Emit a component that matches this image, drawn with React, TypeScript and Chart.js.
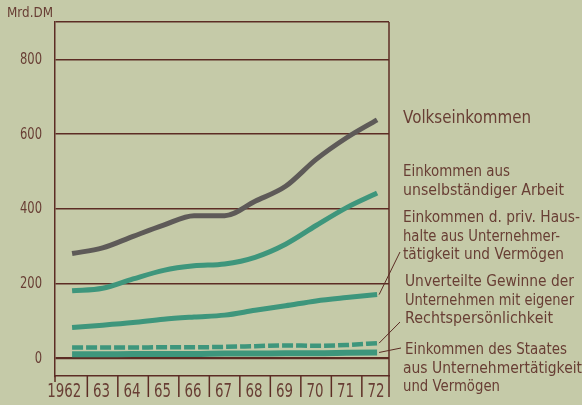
import React, { useEffect, useRef } from "react";
import { Chart, registerables } from "chart.js";

Chart.register(...registerables);

const years = [1962, 1963, 1964, 1965, 1966, 1967, 1968, 1969, 1970, 1971, 1972];
const yearLabels = ["1962", "63", "64", "65", "66", "67", "68", "69", "70", "71", "72"];
const yTicks = [0, 200, 400, 600, 800];
const volkseinkommen = [280, 295, 326, 356, 381, 381, 420, 460, 532, 590, 638];
const unselbstaendig = [180, 187, 212, 235, 247, 252, 270, 305, 355, 403, 442];
const unternehmer = [82, 88, 95, 104, 110, 115, 128, 140, 153, 162, 170];
const unverteilt = [28, 28, 28, 29, 29, 30, 32, 34, 33, 35, 40];
const staat = [10, 10, 11, 11, 11, 12, 12, 13, 13, 14, 15];

const legendBlocks = [
  { lines: ["Volkseinkommen"], widths: [128], big: true },
  { lines: ["Einkommen aus", "unselbständiger Arbeit"], widths: [107, 161] },
  { lines: ["Einkommen d. priv. Haus-", "halte aus Unternehmer-", "tätigkeit und Vermögen"], widths: [177, 157, 161] },
  { lines: ["Unverteilte Gewinne der", "Unternehmen mit eigener", "Rechtspersönlichkeit"], widths: [169, 169, 148] },
  { lines: ["Einkommen des Staates", "aus Unternehmertätigkeit", "und Vermögen"], widths: [162, 179, 97] },
];

const FONT = "'DejaVu Sans', sans-serif";
const BG = "rgb(197,202,168)";
const INK = "rgb(92,44,36)";
const TEXT = "rgb(104,62,52)";
const GRAY = "rgb(94,90,88)";
const GREEN = "rgb(62,150,124)";

function condensed(ctx: any, text: string, x: number, y: number, sx: number) {
  ctx.save();
  ctx.translate(x, y);
  ctx.scale(sx, 1);
  ctx.fillText(text, 0, 0);
  ctx.restore();
}

const decorPlugin = {
  id: "decor",
  beforeDraw(chart: any) {
    const { ctx, width, height } = chart;
    ctx.save();
    ctx.fillStyle = BG;
    ctx.fillRect(0, 0, width, height);
    ctx.restore();
  },
  afterDraw(chart: any) {
    const { ctx, chartArea } = chart;
    const xs = chart.scales.x;
    const ys = chart.scales.y;
    ctx.save();
    ctx.strokeStyle = INK;
    ctx.lineWidth = 1.5;
    // right border
    ctx.beginPath();
    ctx.moveTo(chartArea.right, chartArea.top);
    ctx.lineTo(chartArea.right, chartArea.bottom + 21);
    ctx.stroke();
    // left axis extension
    ctx.beginPath();
    ctx.moveTo(chartArea.left, chartArea.bottom);
    ctx.lineTo(chartArea.left, chartArea.bottom + 6);
    ctx.stroke();
    // separators between year labels
    for (let i = 0; i < years.length - 1; i++) {
      const px = xs.getPixelForValue(years[i] + 0.5);
      ctx.beginPath();
      ctx.moveTo(px, chartArea.bottom);
      ctx.lineTo(px, chartArea.bottom + 21);
      ctx.stroke();
    }

    ctx.fillStyle = TEXT;
    ctx.textBaseline = "middle";

    // y tick labels
    ctx.font = `16.5px ${FONT}`;
    ctx.textAlign = "right";
    yTicks.forEach((v) => {
      condensed(ctx, String(v), chartArea.left - 13, ys.getPixelForValue(v) + 0.5, 0.7);
    });

    // x tick labels
    ctx.font = `20px ${FONT}`;
    years.forEach((y, i) => {
      const px = xs.getPixelForValue(y);
      if (i === 0) {
        ctx.textAlign = "right";
        condensed(ctx, yearLabels[i], xs.getPixelForValue(y + 0.5) - 6, chartArea.bottom + 16, 0.67);
      } else {
        ctx.textAlign = "center";
        condensed(ctx, yearLabels[i], px - 1, chartArea.bottom + 16, 0.67);
      }
    });

    // unit label
    ctx.textAlign = "left";
    ctx.font = `14px ${FONT}`;
    ctx.fillText("Mrd.DM", 7, 13, 46);

    // legend text
    const tx = chartArea.right + 14;
    const starts = [118, 172, 218, 282, 350];
    legendBlocks.forEach((b, i) => {
      ctx.font = b.big ? `17.5px ${FONT}` : `15.5px ${FONT}`;
      b.lines.forEach((t, j) => {
        ctx.fillText(t, tx + (i >= 3 && j === 0 ? 2 : i === 3 ? 2 : 0), starts[i] + j * 18.7, b.widths[j]);
      });
    });

    // leader lines
    const last = years.length - 1;
    const lx = xs.getPixelForValue(years[last]);
    ctx.lineWidth = 1;
    const leaders = [
      { v: unternehmer[last], ty: 252, tx: tx - 3 },
      { v: unverteilt[last], ty: 322, tx: tx - 3 },
      { v: staat[last], ty: 348, tx: tx - 2 },
    ];
    leaders.forEach((l) => {
      ctx.beginPath();
      ctx.moveTo(lx + 2, ys.getPixelForValue(l.v));
      ctx.lineTo(l.tx, l.ty);
      ctx.stroke();
    });
    ctx.restore();
  },
};

export default function App() {
  const ref = useRef<HTMLCanvasElement | null>(null);
  useEffect(() => {
    document.body.style.margin = "0";
    document.body.style.background = BG;
    const ds = (label: string, data: number[], color: string, w: number, dash?: number[]) => ({
      label,
      data: years.map((y, i) => ({ x: y, y: data[i] })),
      borderColor: color,
      backgroundColor: color,
      borderWidth: w,
      borderDash: dash || [],
      pointRadius: 0,
      fill: false,
      cubicInterpolationMode: "monotone" as const,
    });
    const chart = new Chart(ref.current as HTMLCanvasElement, {
      type: "line",
      data: {
        datasets: [
          ds("Volkseinkommen", volkseinkommen, GRAY, 5),
          ds("Einkommen aus unselbständiger Arbeit", unselbstaendig, GREEN, 5),
          ds("Einkommen d. priv. Haushalte aus Unternehmertätigkeit und Vermögen", unternehmer, GREEN, 5),
          ds("Unverteilte Gewinne der Unternehmen mit eigener Rechtspersönlichkeit", unverteilt, GREEN, 4.5, [11, 3]),
          ds("Einkommen des Staates aus Unternehmertätigkeit und Vermögen", staat, GREEN, 6),
        ],
      },
      plugins: [decorPlugin],
      options: {
        animation: false,
        responsive: false,
        devicePixelRatio: 1,
        layout: { padding: { top: 22, right: 193, left: 0, bottom: 0 } },
        plugins: { legend: { display: false }, tooltip: { enabled: false }, title: { display: false } },
        scales: {
          x: {
            type: "linear",
            min: 1961.44,
            max: 1972.39,
            afterBuildTicks: (s: any) => {
              s.ticks = years.map((y) => ({ value: y }));
            },
            afterFit: (s: any) => {
              s.height = 29;
            },
            grid: { display: false, drawTicks: false },
            border: { display: true, color: INK, width: 1.5 },
            ticks: { display: false },
          },
          y: {
            min: -48,
            max: 900,
            afterBuildTicks: (s: any) => {
              s.ticks = [...yTicks, 900].map((v) => ({ value: v }));
            },
            afterFit: (s: any) => {
              s.width = 55;
            },
            grid: {
              color: INK,
              lineWidth: (c: any) => (c.tick && c.tick.value === 0 ? 2.2 : 1.5),
              drawTicks: false,
            },
            border: { display: true, color: INK, width: 1.5 },
            ticks: { display: false },
          },
        },
      },
    });
    return () => chart.destroy();
  }, []);
  return <canvas ref={ref} width={582} height={405} style={{ display: "block" }} />;
}
